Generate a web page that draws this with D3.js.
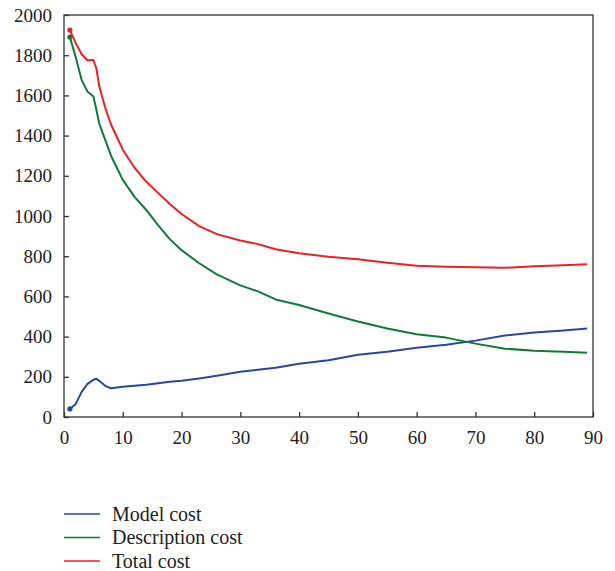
<!DOCTYPE html>
<html>
<head>
<meta charset="utf-8">
<script src="https://cdn.jsdelivr.net/npm/d3@7"></script>
<style>
  body { margin: 0; background: #fff; }
  text { font-family: "Liberation Serif", "DejaVu Serif", serif; fill: #222; }
</style>
</head>
<body>
<svg id="chart" width="615" height="571"></svg>
<script>
// data
var steps = [1, 2, 3, 4, 5, 5.5, 6, 7, 8, 10, 12, 14, 16, 18, 20, 23, 26, 30, 33, 36, 40, 45, 50, 55, 60, 65, 70, 75, 80, 85, 89]
var modelCost = [40, 65, 125, 165, 185, 190, 180, 155, 143, 150, 155, 160, 168, 175, 180, 192, 205, 225, 235, 245, 265, 282, 310, 325, 345, 360, 380, 405, 420, 430, 440]
var descriptionCost = [1890, 1790, 1677, 1619, 1595, 1530, 1460, 1380, 1300, 1180, 1095, 1030, 955, 885, 830, 765, 710, 655, 625, 585, 557, 515, 475, 440, 412, 395, 365, 340, 330, 325, 320]
var totalCost = [1925, 1860, 1805, 1775, 1776, 1735, 1645, 1540, 1455, 1330, 1240, 1170, 1115, 1060, 1010, 950, 910, 878, 860, 835, 815, 797, 785, 768, 753, 748, 745, 742, 750, 755, 760]
var seriesNames = ["Model cost", "Description cost", "Total cost"]
var xTicks = [0, 10, 20, 30, 40, 50, 60, 70, 80, 90]
var yTicks = [0, 200, 400, 600, 800, 1000, 1200, 1400, 1600, 1800, 2000]

var colors = ["#2a47a0", "#107a38", "#ee2024"]
var svg = d3.select('#chart')

var plotLeft = 64, plotRight = 593, plotTop = 15, plotBottom = 417
var x = d3.scaleLinear().domain([0, 90]).range([plotLeft, plotRight])
var y = d3.scaleLinear().domain([0, 2000]).range([plotBottom, plotTop])

// frame
svg.append("rect").attr("x", plotLeft).attr("y", plotTop).attr("width", plotRight - plotLeft).attr("height", plotBottom - plotTop)
  .style("fill", "none").style("stroke", "#333").style("stroke-width", 1.3)

// axes, ticks pointing inward
var xAxis = svg.append("g").attr("transform", "translate(0," + plotBottom + ")")
  .call(d3.axisBottom(x).tickValues(xTicks).tickFormat(d3.format("d")).tickSizeInner(-5).tickSizeOuter(0).tickPadding(11))
var yAxis = svg.append("g").attr("transform", "translate(" + plotLeft + ",0)")
  .call(d3.axisLeft(y).tickValues(yTicks).tickFormat(d3.format("d")).tickSizeInner(-5).tickSizeOuter(0).tickPadding(12))
svg.selectAll(".domain").remove()
svg.selectAll(".tick line").style("stroke", "#333").style("stroke-width", 1.3)
svg.selectAll(".tick text").style("font-size", "19px").style("font-family", "Liberation Serif, serif").style("fill", "#222")
xAxis.selectAll(".tick text").attr("dy", "0.85em")

var allSeries = [modelCost, descriptionCost, totalCost]
var line = d3.line().x(function(d, i) { return x(steps[i]) }).y(function(d) { return y(d) })

allSeries.forEach(function(vals, k) {
  svg.append("path").datum(vals).attr("d", line)
    .style("fill", "none").style("stroke", colors[k]).style("stroke-width", 2).style("stroke-linejoin", "round")
  svg.append("circle").attr("cx", x(steps[0])).attr("cy", y(vals[0])).attr("r", 2.6).style("fill", colors[k])
})

// legend
seriesNames.forEach(function(name, k) {
  var ly = 514 + k * 23.5
  svg.append("line").attr("x1", 64).attr("x2", 100).attr("y1", ly).attr("y2", ly)
    .style("stroke", colors[k]).style("stroke-width", 1.3)
  svg.append("text").attr("x", 112).attr("y", ly).attr("dy", "0.33em").text(name).style("font-size", "20px")
})
</script>
</body>
</html>
